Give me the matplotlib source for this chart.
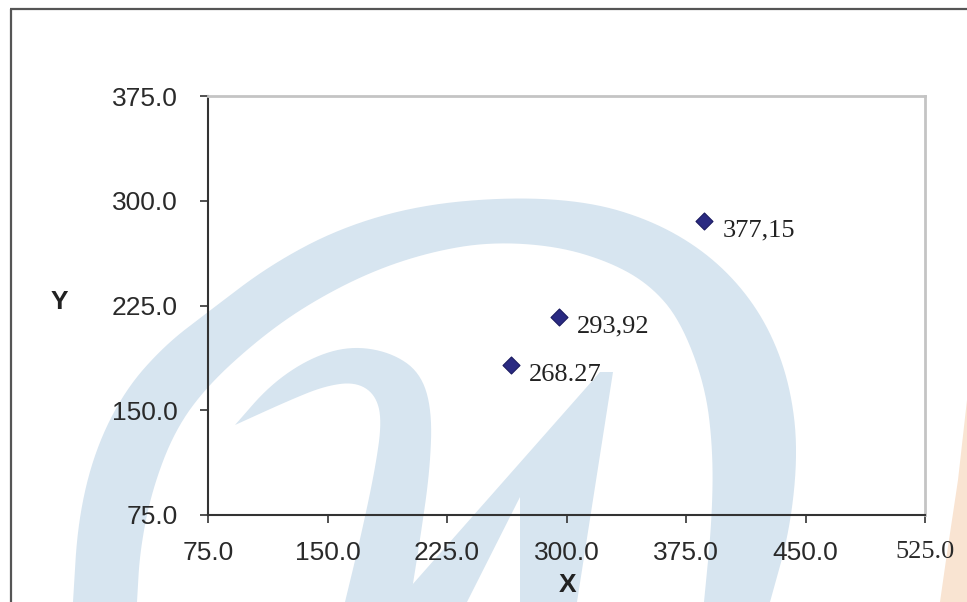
#!/usr/bin/env python3
"""
Scatter of three points with data labels (reference chart rebuild)
"""
import numpy as np
import matplotlib
matplotlib.use('Agg')  # no display
import matplotlib.pyplot as plt

# data
x_vals = [265.2, 295.3, 386.4]
y_vals = [182.4, 216.7, 285.5]
point_labels = ['268.27', '293,92', '377,15']

x_ticks = [75, 150, 225, 300, 375, 450, 525]
y_ticks = [75, 150, 225, 300, 375]

W, H = 967, 602


def smooth(pts, n=3):
    """Chaikin corner cutting, ends kept"""
    pts = np.asarray(pts, dtype=float)
    for _ in range(n):
        q = 0.75 * pts[:-1] + 0.25 * pts[1:]
        r = 0.25 * pts[:-1] + 0.75 * pts[1:]
        mid = np.empty((2 * len(q), 2))
        mid[0::2] = q
        mid[1::2] = r
        pts = np.vstack([pts[:1], mid, pts[-1:]])
    return pts


def fill_band(bg, edge_a, edge_b, color):
    pts = np.vstack([smooth(edge_a), smooth(edge_b)])
    bg.fill(pts[:, 0], pts[:, 1], color=color, lw=0)


def draw_watermark(bg):
    """faint logo behind the chart, in pixel coords (y down)"""
    blue = '#d7e5f0'
    ring_outer = [(73, 602), (78, 520), (95, 450), (125, 390), (165, 345),
                  (208, 312), (270, 265), (340, 228), (420, 205), (512, 197),
                  (590, 202), (650, 220), (700, 248), (740, 285), (770, 330),
                  (790, 385), (798, 450), (790, 530), (770, 602)]
    ring_inner = [(704, 602), (712, 520), (713, 450), (705, 385), (680, 320),
                  (650, 285), (610, 262), (556, 246), (490, 242), (430, 252),
                  (370, 272), (310, 303), (260, 338), (208, 385), (175, 430),
                  (152, 490), (140, 550), (137, 602)]
    fill_band(bg, ring_outer, ring_inner, blue)

    hook_outer = [(235, 425), (270, 385), (310, 358), (350, 346), (390, 352),
                  (420, 372), (432, 410), (430, 470), (420, 540), (410, 602)]
    hook_inner = [(345, 602), (360, 540), (375, 470), (382, 420), (375, 394),
                  (355, 382), (325, 386), (290, 400), (235, 425)]
    fill_band(bg, hook_outer, hook_inner, blue)

    stroke = [(600, 372), (613, 372), (577, 602), (520, 602), (520, 497),
              (467, 602), (397, 602)]
    bg.fill([p[0] for p in stroke], [p[1] for p in stroke], color=blue, lw=0)

    orange = [(967, 400), (958, 480), (946, 560), (940, 602), (967, 602)]
    bg.fill([p[0] for p in orange], [p[1] for p in orange], color='#f9e4d2', lw=0)

    # outer frame (only left and top edges show)
    bg.plot([10.5, 10.5], [602, 9], color='#555555', lw=1.6, solid_capstyle='butt')
    bg.plot([10, 967], [9, 9], color='#555555', lw=1.6, solid_capstyle='butt')


def main():
    plt.rcParams['font.family'] = ['Liberation Sans', 'DejaVu Sans']

    fig = plt.figure(figsize=(W / 100, H / 100), dpi=100)
    fig.patch.set_facecolor('white')

    bg = fig.add_axes([0, 0, 1, 1], zorder=0)
    bg.set_xlim(0, W)
    bg.set_ylim(H, 0)
    bg.axis('off')
    draw_watermark(bg)

    ax = fig.add_axes([208 / W, 1 - 515 / H, 717 / W, 419 / H], zorder=1)
    ax.set_facecolor('none')

    ax.scatter(x_vals, y_vals, marker='D', s=75, color='#2a2a82',
               edgecolors='#1a1a60', linewidths=0.8, zorder=3)
    for x, y, lab in zip(x_vals, y_vals, point_labels):
        ax.annotate(lab, (x, y), xytext=(13, -7), textcoords='offset points',
                    ha='left', va='center', fontsize=19, color='#222222',
                    family=['Liberation Serif', 'DejaVu Serif'])

    ax.set_xlim(75, 525)
    ax.set_ylim(75, 375)
    ax.set_xticks(x_ticks)
    ax.set_yticks(y_ticks)
    ax.set_xticklabels([f'{v:.1f}' for v in x_ticks])
    ax.set_yticklabels([f'{v:.1f}' for v in y_ticks])
    ax.get_xticklabels()[-1].set_fontfamily(['Liberation Serif', 'DejaVu Serif'])

    ax.tick_params(axis='x', direction='out', length=6, width=1.2, color='#333333',
                   labelsize=19, labelcolor='#2a2a2a', pad=13)
    ax.tick_params(axis='y', direction='out', length=6, width=1.2, color='#333333',
                   labelsize=19, labelcolor='#2a2a2a', pad=16)

    for side in ('left', 'bottom'):
        ax.spines[side].set_color('#333333')
        ax.spines[side].set_linewidth(1.5)
    for side in ('top', 'right'):
        ax.spines[side].set_color('#c4c4c4')
        ax.spines[side].set_linewidth(2)

    ax.set_xlabel('X', fontsize=19, fontweight='bold', color='#222222')
    ax.set_ylabel('Y', fontsize=19, fontweight='bold', color='#222222', rotation=0)
    ax.xaxis.set_label_coords((568 - 208) / 717, (515 - 585) / 419)
    ax.yaxis.set_label_coords((59 - 208) / 717, (515 - 302) / 419)
    ax.xaxis.label.set_va('center')
    ax.yaxis.label.set_va('center')

    fig.savefig('out.png', dpi=100)
    plt.close(fig)
    print('saved out.png')


if __name__ == '__main__':
    main()
